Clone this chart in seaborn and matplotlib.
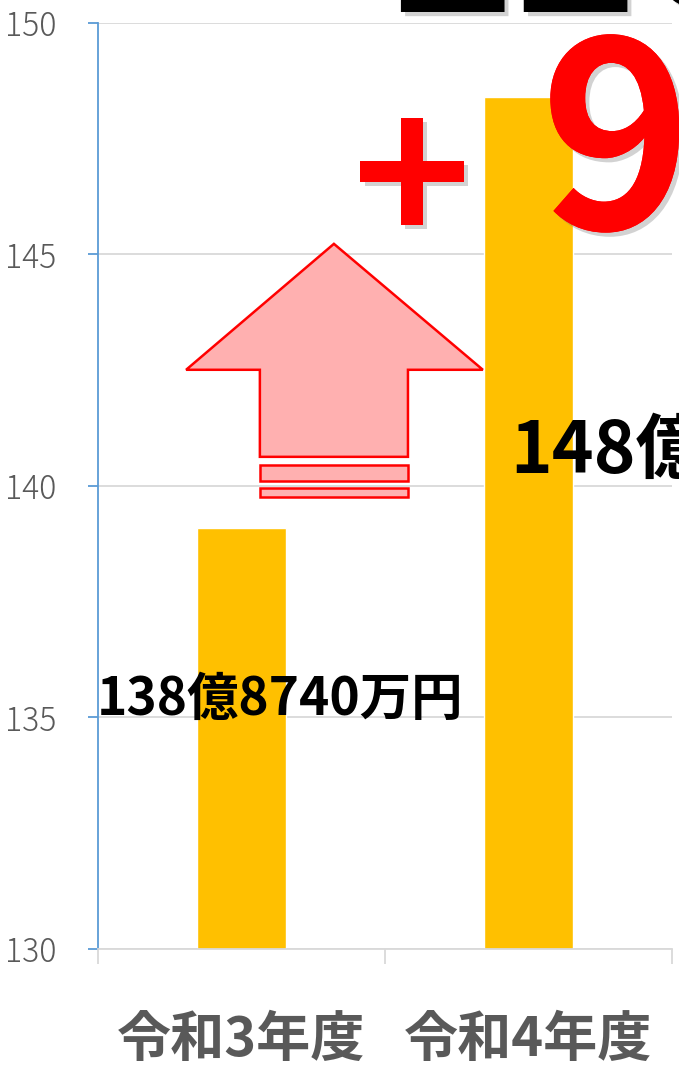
import matplotlib
matplotlib.use("Agg")
import matplotlib.pyplot as plt
import matplotlib.patheffects as pe
from matplotlib.patches import Polygon, Rectangle
import seaborn as sns
import pandas as pd

# データ
years = ["令和3年度", "令和4年度"]
amounts = [139.1, 148.4]          # 億円 (グラフ上の棒の高さ)
label_r3 = "138億8740万円"
label_r4 = "148億"
y_ticks = [130, 135, 140, 145, 150]

df = pd.DataFrame({"year": years, "amount": amounts})

sns.set_theme(style="white")
plt.rcParams["font.family"] = ["Noto Sans CJK JP", "DejaVu Sans"]

W, H = 679, 1067
fig = plt.figure(figsize=(W / 100, H / 100), dpi=100)
ax = fig.add_axes([98 / W, 1 - 949 / H, (672 - 98) / W, (949 - 23) / H])

sns.barplot(data=df, x="year", y="amount", color="#FFC000", saturation=1,
            width=0.31, ax=ax, zorder=2)

ax.set_ylim(130, 150)
ax.set_xlim(-0.5, 1.5)
ax.set_yticks(y_ticks)
ax.set_xlabel("")
ax.set_ylabel("")

# 目盛り・枠線
for s in ["top", "right"]:
    ax.spines[s].set_visible(False)
ax.spines["left"].set_color("#5B9BD5")
ax.spines["left"].set_linewidth(1.3)
ax.spines["bottom"].set_color("#D9D9D9")
ax.spines["bottom"].set_linewidth(1.3)
ax.yaxis.grid(True, color="#D9D9D9", linewidth=1.3, zorder=0)
ax.set_axisbelow(True)

ax.tick_params(axis="y", direction="out", length=7, width=1.3, color="#5B9BD5",
               pad=23, labelsize=23, labelcolor="#595959", left=True)
for t in ax.get_yticklabels():
    t.set_fontweight("light")

ax.set_xticks([-0.5, 0.5, 1.5], minor=True)
ax.tick_params(axis="x", which="minor", direction="out", length=11, width=1.3,
               color="#D9D9D9", bottom=True)
ax.tick_params(axis="x", which="major", length=0, pad=46, labelsize=39,
               labelcolor="#595959")
for t in ax.get_xticklabels():
    t.set_fontweight("bold")

# 矢印
arrow = Polygon([(0.322, 145.23), (0.841, 142.51), (0.580, 142.51), (0.580, 140.63),
                 (0.064, 140.63), (0.064, 142.51), (-0.193, 142.51)],
                closed=True, facecolor="#FFB0B0", edgecolor="#FF0000", linewidth=1.8,
                zorder=3)
ax.add_patch(arrow)
for y0, y1 in [(140.11, 140.45), (139.76, 139.96)]:
    ax.add_patch(Rectangle((0.064, y0), 0.516, y1 - y0, facecolor="#FFB0B0",
                           edgecolor="#FF0000", linewidth=1.8, zorder=3))

# 金額ラベル
ax.text(0.133, 135.38, label_r3, ha="center", va="center", fontsize=37,
        fontweight="bold", color="black", zorder=4)
fig.text(510 / W, 1 - 452 / H, label_r4, ha="left", va="center", fontsize=51,
         fontweight="bold", color="black")

# 増加額 (大きな赤文字)
shadow = [pe.withSimplePatchShadow(offset=(3, -3), shadow_rgbFace="gray", alpha=0.35),
          pe.Normal()]
fig.text(412 / W, 1 - 188 / H, "+", ha="center", va="center", fontsize=145,
         fontweight="bold", color="#FF0000", path_effects=shadow)
fig.text(540 / W, 1 - 229 / H, "9", ha="left", va="baseline", fontsize=186,
         fontweight="bold", color="#FF0000", path_effects=shadow)
fig.text(392 / W, 1 - 12 / H, "22の", ha="left", va="baseline", fontsize=150,
         fontweight="bold", color="black", path_effects=shadow)

fig.savefig("out.png", dpi=100)
